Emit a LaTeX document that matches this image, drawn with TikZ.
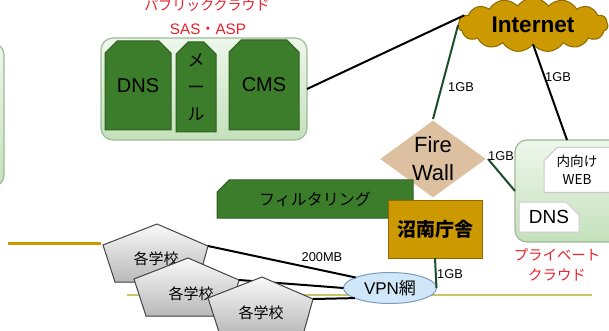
\documentclass[tikz,border=0pt]{standalone}
\usepackage{fontspec}
\setmainfont{Liberation Sans}
\newfontfamily\jp{Noto Sans CJK JP}
\usetikzlibrary{shapes.geometric, shapes.misc, shapes.symbols}

\definecolor{svcgreen}{HTML}{3C7D2B}
\definecolor{svcedge}{HTML}{2F5F22}
\definecolor{boxtop}{HTML}{EEF7EB}
\definecolor{boxbot}{HTML}{C4E1BB}
\definecolor{boxedge}{HTML}{9CBB96}
\definecolor{gold}{HTML}{CC9900}
\definecolor{goldedge}{HTML}{8C6A00}
\definecolor{fwtan}{HTML}{DCC0A0}
\definecolor{vpnblue}{HTML}{CFE7F8}
\definecolor{vpnedge}{HTML}{7D9CBB}
\definecolor{cloudred}{HTML}{E8202A}
\definecolor{linkgreen}{HTML}{1E4D2B}
\definecolor{olive}{HTML}{C9C36A}

\begin{document}
\begin{tikzpicture}[x=0.5pt, y=-0.5pt]
\tikzset{ >=latex, inner sep=0pt, outer sep=0pt,
  box/.style={draw=boxedge, line width=0.6pt, rounded corners=6pt, top color=boxtop, bottom color=boxbot},
  svc/.style={chamfered rectangle, chamfered rectangle xsep=2.5pt, chamfered rectangle corners={north west, north east},
              draw=svcedge, fill=svcgreen, line width=0.5pt},
  whitebox/.style={chamfered rectangle, chamfered rectangle xsep=3pt, draw=gray!40, fill=white, line width=0.5pt},
  school/.style={draw=gray!55!black, line width=0.5pt, top color=gray!5, bottom color=gray!55},
  redtext/.style={text=cloudred, font=\jp\fontsize{7}{10}\selectfont, align=center},
  bw/.style={font=\fontsize{6.4}{7}\selectfont},
  link/.style={line width=1pt, black},
  uplink/.style={line width=1pt, linkgreen},
}

\clip (0,0) rectangle (609,331);

%\draw [lightgray, dashed] (0,0) grid[step=50] (609,331);

% rules behind everything
\draw [gold, line width=1.5pt] (8,243) -- (101,243);
\draw [olive, line width=0.7pt] (127,295) -- (592,295);

% box cut off at the left edge
\node [box, minimum width=12pt, minimum height=72pt] (LEFT) at (-8,115) {};

% public cloud
\node [redtext] (PUBT) at (207,5) {パブリッククラウド};
\node [redtext, font=\fontsize{7.6}{10}\selectfont] (SAS) at (208,29) {SAS{\jp ・}ASP};
\node [box, minimum width=103pt, minimum height=51pt] (PUB) at (204,89) {};
\node [svc, minimum width=33pt, minimum height=44.5pt, font=\fontsize{10}{12}\selectfont] (DNSA) at (138,85.5) {DNS};
\node [svc, minimum width=20pt, minimum height=45pt, align=center, font=\jp\fontsize{8.5}{13.5}\selectfont] (MAIL) at (196,87) {メ\\ー\\ル};
\node [svc, minimum width=35pt, minimum height=45pt, font=\fontsize{10}{12}\selectfont] (CMS) at (264,85) {CMS};

% internet
\node [cloud, cloud puffs=15, cloud puff arc=110, cloud ignores aspect, fill=gold, draw=goldedge, line width=0.5pt,
       minimum width=75pt, minimum height=27pt,
       label={[font=\bfseries\fontsize{11.3}{13}\selectfont]center:Internet}] (INET) at (533,25) {};

% firewall
\node [diamond, aspect=1.375, fill=fwtan, draw=white, line width=1.2pt, minimum width=55pt, minimum height=40pt,
       align=center, font=\fontsize{11}{14}\selectfont] (FW) at (433,159) {Fire\\Wall};

% private cloud
\node [box, minimum width=70pt, minimum height=51pt] (PRIV) at (585,191) {};
\node [whitebox, chamfered rectangle corners=north west, minimum width=33pt, minimum height=22.5pt,
       align=center, font=\jp\fontsize{6.8}{9}\selectfont] (WEB) at (577,170) {内向け\\WEB};
\node [whitebox, chamfered rectangle corners=north east, minimum width=30pt, minimum height=15pt,
       font=\fontsize{9.5}{11}\selectfont] (DNSB) at (549,217) {DNS};
\node [redtext, font=\jp\fontsize{7.2}{10}\selectfont] (PRIVT) at (557,265) {プライベート\\クラウド};

% filtering and office
\node [svc, chamfered rectangle corners=north west, minimum width=98pt, minimum height=19pt,
       font=\jp\fontsize{8}{10}\selectfont] (FILT) at (315,199) {フィルタリング};
\node [rectangle, fill=gold, draw=goldedge, line width=0.5pt, minimum width=47pt, minimum height=29pt,
       font=\jp\bfseries\fontsize{9.5}{11}\selectfont] (HQ) at (435,229) {沼南庁舎};

% schools
\filldraw [school, shift={(156,258)}] (1,-34) -- (52,-12) -- (42,24) -- (-41,24) -- (-53,-13) -- cycle;
\node [font=\jp\fontsize{7.5}{9}\selectfont] (S1) at (156,259) {各学校};
\coordinate (S1R) at (208,246);
\filldraw [school, shift={(187,292)}] (1,-34) -- (52,-12) -- (42,24) -- (-41,24) -- (-53,-13) -- cycle;
\node [font=\jp\fontsize{7.5}{9}\selectfont] (S2) at (191,294) {各学校};
\coordinate (S2R) at (239,280);

% VPN
\node [ellipse, fill=vpnblue, draw=vpnedge, line width=0.5pt, minimum width=46.5pt, minimum height=15.5pt,
       font=\fontsize{8.5}{10}\selectfont] (VPN) at (390,288) {VPN{\jp 網}};

\draw [link] (S1R) -- (VPN.163);
\draw [link] (S2R) -- (VPN.west);

\filldraw [school, shift={(261,311)}] (1,-34) -- (52,-12) -- (42,24) -- (-41,24) -- (-53,-13) -- cycle;
\node [font=\jp\fontsize{7.5}{9}\selectfont] (S3) at (261,313) {各学校};
\coordinate (S3R) at (313,299);
\draw [link] (S3R) -- (VPN.196);

% links
\draw [link] (PUB.east) -- (INET.172);
\draw [uplink] (INET.west) -- (FW.north);
\draw [link] (INET.south) -- ([xshift=-9pt]PRIV.north);
\draw [uplink] (FW.east) -- (PRIV.west);
\draw [uplink] (HQ.south) -- (VPN.east);

\node [bw] at (461,87) {1GB};
\node [bw] at (558,77) {1GB};
\node [bw] at (501,156) {1GB};
\node [bw] at (450,274) {1GB};
\node [bw] at (322,257) {200MB};

\end{tikzpicture}
\end{document}
